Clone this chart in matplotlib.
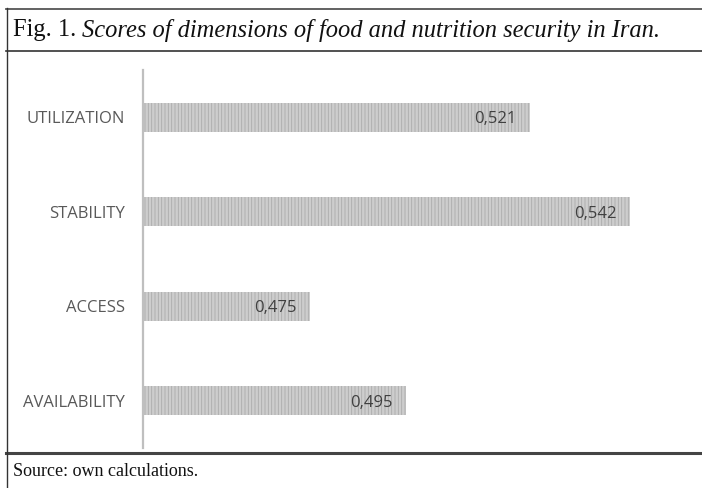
import matplotlib
matplotlib.use("Agg")
import matplotlib.pyplot as plt
from matplotlib.lines import Line2D

categories = ["AVAILABILITY", "ACCESS", "STABILITY", "UTILIZATION"]
values = [0.495, 0.475, 0.542, 0.521]
value_labels = ["0,495", "0,475", "0,542", "0,521"]
title_plain = "Fig. 1."
title_italic = "Scores of dimensions of food and nutrition security in Iran."
source_text = "Source: own calculations."

W, H = 702, 488
DPI = 100
plt.rcParams["hatch.linewidth"] = 0.6
fig = plt.figure(figsize=(W / DPI, H / DPI), dpi=DPI)
fig.patch.set_facecolor("white")

def px(x, y):
    return x / W, 1 - y / H

ax_left, ax_right, ax_top, ax_bottom = 143, 668, 70, 448
ax = fig.add_axes([ax_left / W, (H - ax_bottom) / H, (ax_right - ax_left) / W, (ax_bottom - ax_top) / H])

ypos = list(range(len(categories)))
bars = ax.barh(ypos, values, height=0.31, left=0, color="#cdcdcd", edgecolor="#ababab",
               hatch="|||||", linewidth=0)
ax.set_xlim(0.44, 0.55)
ax.set_ylim(-0.5, len(categories) - 0.5)
ax.set_yticks(ypos)
ax.set_yticklabels(categories, fontsize=12, color="#595959", family=["Open Sans", "DejaVu Sans"])
ax.tick_params(axis="y", length=0, pad=13)
ax.set_xticks([])
for s in ["top", "right", "bottom"]:
    ax.spines[s].set_visible(False)
ax.spines["left"].set_color("#bfbfbf")
ax.spines["left"].set_linewidth(1.6)
ax.patch.set_alpha(0)

for y, v, lab in zip(ypos, values, value_labels):
    ax.annotate(lab, xy=(v, y), xytext=(-9.5, 0), textcoords="offset points",
                ha="right", va="center_baseline", fontsize=12, color="#404040",
                family=["Open Sans", "DejaVu Sans"])

# frame lines
def hline(y, x0, x1, lw, color):
    fig.add_artist(Line2D([x0 / W, x1 / W], [1 - y / H, 1 - y / H], transform=fig.transFigure,
                          color=color, linewidth=lw))

def vline(x, y0, y1, lw, color):
    fig.add_artist(Line2D([x / W, x / W], [1 - y0 / H, 1 - y1 / H], transform=fig.transFigure,
                          color=color, linewidth=lw))

hline(8.5, 6, W, 1.3, "#555555")
hline(51, 6, W, 1.2, "#333333")
hline(452.5, 6, W, 2.2, "#444444")
vline(6.5, 8, H, 1.0, "#333333")

# title
serif = ["Liberation Serif", "DejaVu Serif"]
t1 = fig.text(*px(13, 30), title_plain + " ", fontsize=17.65, family=serif, va="center", ha="left", color="#111111")
fig.canvas.draw()
bb = t1.get_window_extent()
fig.text(bb.x1 / W, 1 - 30 / H, title_italic, fontsize=17.65, family=serif, style="italic",
         va="center", ha="left", color="#111111")
fig.text(*px(13, 471), source_text, fontsize=13, family=serif, va="center", ha="left", color="#111111")

fig.savefig("out.png", dpi=DPI)
